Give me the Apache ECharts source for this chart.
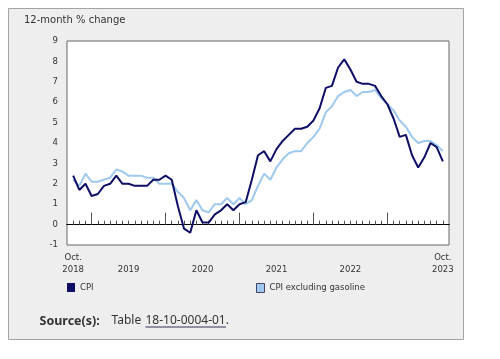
<!DOCTYPE html>
<html>
<head>
<meta charset="utf-8">
<script src="https://cdn.jsdelivr.net/npm/echarts@6/dist/echarts.min.js"></script>
<style>
html,body{margin:0;padding:0;background:#ffffff;}
#chart{width:500px;height:359px;}
</style>
</head>
<body>
<div id="chart"></div>
<script>
// Monthly, Oct 2018 .. Oct 2023 (61 months)
var cpi = [2.4,1.7,2.0,
  1.4,1.5,1.9,2.0,2.4,2.0,2.0,1.9,1.9,1.9,2.2,2.2,
  2.4,2.2,0.9,-0.2,-0.4,0.7,0.1,0.1,0.5,0.7,1.0,0.7,
  1.0,1.1,2.2,3.4,3.6,3.1,3.7,4.1,4.4,4.7,4.7,4.8,
  5.1,5.7,6.7,6.8,7.7,8.1,7.6,7.0,6.9,6.9,6.8,6.3,
  5.9,5.2,4.3,4.4,3.4,2.8,3.3,4.0,3.8,3.1];
var cpiExGas = [2.2,1.9,2.5,
  2.1,2.1,2.2,2.3,2.7,2.6,2.4,2.4,2.4,2.3,2.3,2.0,
  2.0,2.0,1.6,1.3,0.7,1.2,0.7,0.6,1.0,1.0,1.3,1.0,
  1.3,1.0,1.2,1.9,2.5,2.2,2.8,3.2,3.5,3.6,3.6,4.0,
  4.3,4.7,5.5,5.8,6.3,6.5,6.6,6.3,6.5,6.5,6.6,6.2,
  5.9,5.6,5.1,4.8,4.3,4.0,4.1,4.1,3.9,3.6];
var seriesNames = ['CPI', 'CPI excluding gasoline'];
// x tick labels: month index (0 = Oct 2018), first line, second line
var xLabelMonths = [0, 9, 21, 33, 45, 60];
var xLabelTop = ['Oct.', '', '', '', '', 'Oct.'];
var xLabelYear = ['2018', '2019', '2020', '2021', '2022', '2023'];
var januaryMonths = [3, 15, 27, 39, 51];
var yTicks = [-1, 0, 1, 2, 3, 4, 5, 6, 7, 8, 9];

var monthIdx = cpi.map(function (v, i) { return i; });
var FONT = 'DejaVu Sans, Verdana, sans-serif';

var chart = echarts.init(document.getElementById('chart'), null, {renderer: 'canvas'});
var baseX = {type: 'value', min: -1, max: 61, gridIndex: 0, splitLine: {show: false}};
chart.setOption({
  animation: false,
  backgroundColor: '#ffffff',
  title: {
    text: '12-month % change', left: 24, top: 15, padding: 0,
    textStyle: {fontFamily: FONT, fontSize: 10, fontWeight: 'normal', color: '#333333'}
  },
  grid: {
    left: 67, right: 51, top: 41, bottom: 114,
    show: true, backgroundColor: '#ffffff', borderColor: '#666666', borderWidth: 1,
    containLabel: false
  },
  xAxis: [
    Object.assign({}, baseX, {
      position: 'bottom',
      axisLine: {show: true, onZero: true, onZeroAxisIndex: 0, lineStyle: {color: '#000000', width: 1}},
      axisTick: {show: true, inside: true, length: 4, customValues: monthIdx, lineStyle: {color: '#555555'}},
      axisLabel: {show: false}
    }),
    Object.assign({}, baseX, {
      position: 'bottom',
      axisLine: {show: true, onZero: true, onZeroAxisIndex: 0, lineStyle: {color: '#000000', width: 1}},
      axisTick: {show: true, inside: true, length: 12, customValues: januaryMonths, lineStyle: {color: '#555555'}},
      axisLabel: {show: false}
    }),
    Object.assign({}, baseX, {
      position: 'bottom',
      axisLine: {show: false, onZero: false},
      axisTick: {show: false},
      axisLabel: {
        show: true, margin: 7, customValues: xLabelMonths,
        fontFamily: FONT, fontSize: 8.5, color: '#333333', lineHeight: 12,
        formatter: function (v) {
          var k = xLabelMonths.indexOf(Math.round(v));
          if (k < 0) return '';
          return xLabelTop[k] + '\n' + xLabelYear[k];
        }
      }
    })
  ],
  yAxis: {
    type: 'value', min: yTicks[0], max: yTicks[yTicks.length - 1], interval: 1,
    axisLine: {show: false}, axisTick: {show: false}, splitLine: {show: false},
    axisLabel: {margin: 9, fontFamily: FONT, fontSize: 8.5, color: '#333333'}
  },
  legend: [
    {
      data: [{name: seriesNames[0]}], left: 67, top: 283, padding: 0,
      icon: 'rect', itemWidth: 8, itemHeight: 9,
      textStyle: {fontFamily: FONT, fontSize: 8.5, color: '#333333'}
    },
    {
      data: [{name: seriesNames[1], itemStyle: {borderColor: '#444466', borderWidth: 1}}],
      left: 256, top: 283, padding: 0,
      icon: 'rect', itemWidth: 8, itemHeight: 9,
      textStyle: {fontFamily: FONT, fontSize: 8.5, color: '#333333'}
    }
  ],
  series: [
    {
      name: seriesNames[1], type: 'line', xAxisIndex: 0, yAxisIndex: 0,
      data: cpiExGas.map(function (v, i) { return [monthIdx[i], v]; }),
      showSymbol: false, symbol: 'none', color: '#9fc9ee',
      lineStyle: {width: 2, color: '#9fc9ee'}, z: 2
    },
    {
      name: seriesNames[0], type: 'line', xAxisIndex: 0, yAxisIndex: 0,
      data: cpi.map(function (v, i) { return [monthIdx[i], v]; }),
      showSymbol: false, symbol: 'none', color: '#0e0e66',
      lineStyle: {width: 2, color: '#0e0e66'}, z: 3
    }
  ],
  graphic: [
    {
      type: 'rect', z: -10, silent: true,
      shape: {x: 8.5, y: 8.5, width: 455, height: 331},
      style: {fill: '#eeeeee', stroke: '#a3a3a3', lineWidth: 1}
    },
    {
      type: 'text', x: 39.5, y: 321, silent: true,
      style: {text: 'Source(s):', font: 'bold 12.5px "Noto Sans", sans-serif', fill: '#333333', verticalAlign: 'middle'}
    },
    {
      type: 'text', x: 111.5, y: 321, silent: true,
      style: {text: 'Table', font: '12px "Noto Sans", sans-serif', fill: '#333333', verticalAlign: 'middle'}
    },
    {
      type: 'text', x: 145.5, y: 321, silent: true,
      style: {text: '18-10-0004-01.', font: '12px "Noto Sans", sans-serif', fill: '#333333', verticalAlign: 'middle'}
    },
    {
      type: 'line', silent: true,
      shape: {x1: 145.5, y1: 327, x2: 226, y2: 327},
      style: {stroke: '#333355', lineWidth: 1}
    }
  ]
});
</script>
</body>
</html>
